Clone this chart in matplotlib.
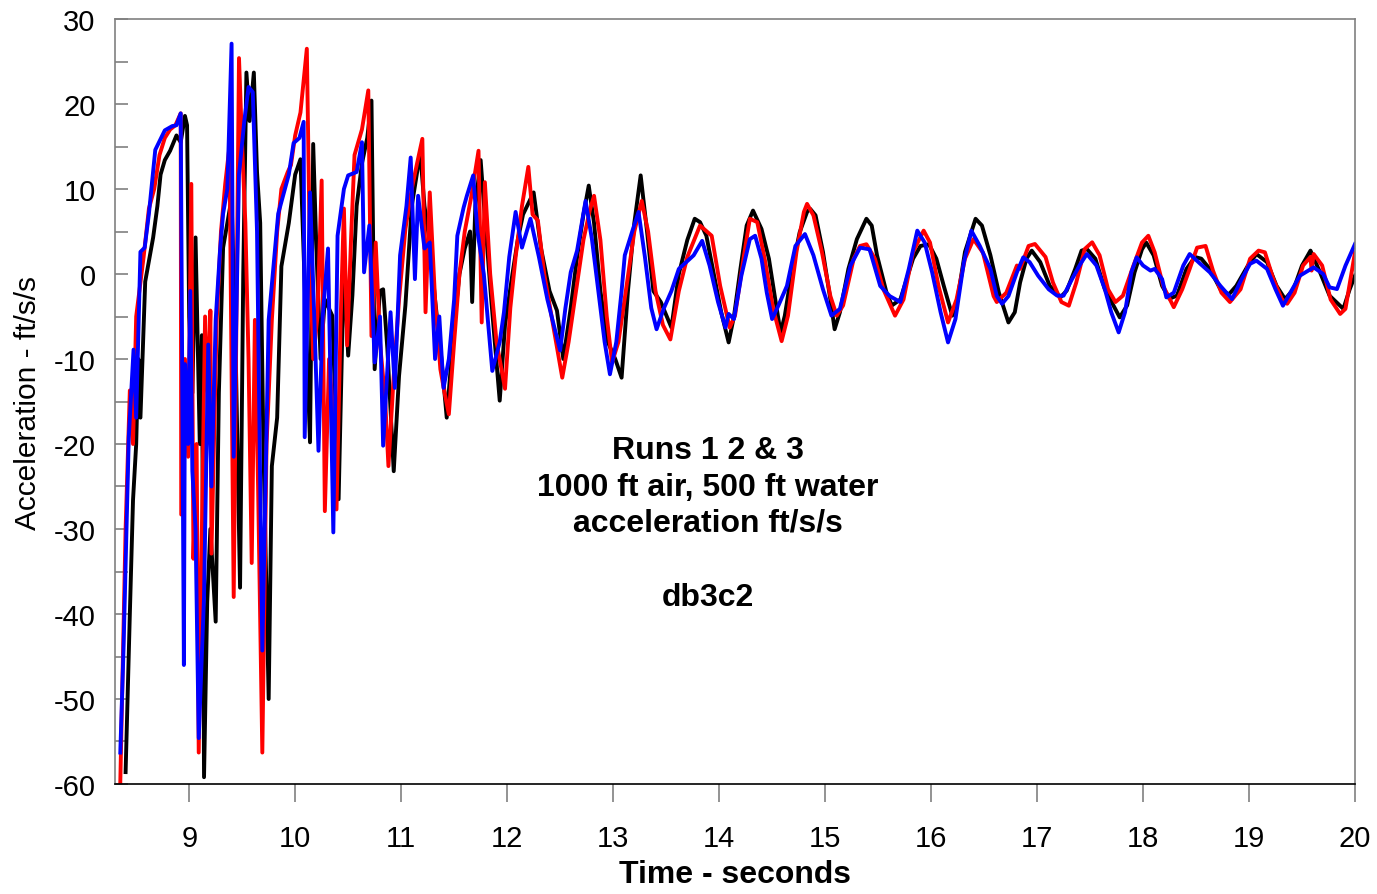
import matplotlib
matplotlib.use("Agg")
import matplotlib.pyplot as plt
from matplotlib.ticker import MultipleLocator

plt.rcParams['font.family'] = ['Liberation Sans', 'DejaVu Sans']
plt.rcParams['axes.unicode_minus'] = False

# ---------------- data ----------------
t_run1 = [8.40, 8.44, 8.47, 8.50, 8.52, 8.54, 8.585, 8.62, 8.66, 8.70, 8.73, 8.77, 8.82, 8.88, 8.92, 8.96, 8.98,
          9.00, 9.03, 9.06, 9.08, 9.10, 9.12, 9.14, 9.17, 9.20, 9.25, 9.28, 9.32, 9.36, 9.40, 9.44, 9.48, 9.51,
          9.54, 9.57, 9.61, 9.64, 9.67, 9.70, 9.75, 9.78, 9.83, 9.87, 9.94, 10.00, 10.05, 10.10, 10.14, 10.17,
          10.20, 10.24, 10.28, 10.35, 10.41, 10.46, 10.50, 10.54, 10.58, 10.63, 10.68, 10.72, 10.75, 10.80,
          10.83, 10.87, 10.93, 10.98, 11.04, 11.10, 11.18, 11.22, 11.27, 11.32, 11.38, 11.43, 11.50, 11.55,
          11.60, 11.65, 11.67, 11.70, 11.75, 11.80, 11.85, 11.93, 11.98, 12.05, 12.10, 12.15, 12.25, 12.32,
          12.40, 12.47, 12.53, 12.60, 12.66, 12.72, 12.77, 12.82, 12.88, 12.95, 13.02, 13.08, 13.14, 13.20,
          13.26, 13.32, 13.38, 13.45, 13.55, 13.62, 13.70, 13.77,
          13.82, 13.88, 13.95, 14.02, 14.09, 14.14, 14.20, 14.26, 14.32, 14.40, 14.47, 14.53, 14.58, 14.62,
          14.69, 14.76, 14.83, 14.86, 14.91, 14.98, 15.05, 15.09, 15.14, 15.22, 15.30, 15.39, 15.44, 15.49,
          15.58, 15.63, 15.71, 15.83, 15.90, 15.98, 16.05, 16.12, 16.20, 16.24, 16.32, 16.42, 16.48, 16.56,
          16.64, 16.73, 16.79,
          16.84, 16.90, 16.95, 17.03, 17.12, 17.22, 17.28, 17.36, 17.42, 17.47, 17.55, 17.64, 17.72, 17.78,
          17.85, 17.92, 17.99, 18.03, 18.10, 18.18, 18.25, 18.32, 18.41, 18.49, 18.55, 18.63, 18.73, 18.81,
          18.88, 18.99, 19.07, 19.17, 19.26, 19.34, 19.42, 19.50, 19.58, 19.67, 19.76, 19.89, 19.95, 20.00]
a_run1 = [-58.6, -40.0, -26.6, -20.0, -10.0, -16.9, -0.9, 1.5, 4.3, 8.0, 11.7, 13.4, 14.5, 16.3, 15.5, 18.6, 17.5,
          -5.0, -14.0, 4.3, -8.0, -20.0, -7.2, -59.2, -38.6, -30.0, -40.9, -14.0, 3.1, 6.0, 8.9, -10.0, -36.9, 0.0,
          23.7, 18.0, 23.7, 12.0, 6.0, -20.0, -50.0, -22.6, -16.9, 0.9, 6.0, 11.7, 13.5, -5.0, -19.8, 15.3,
          3.0, -10.0, -3.0, -4.9, -26.5, 1.4, -9.6, -2.5, 8.0, 13.0, 16.0, 20.4, -11.2, -2.0,
          -1.8, -8.8, -23.2, -12.0, -3.7, 8.0, 14.3, 8.0, 3.7, -3.0, -10.0, -16.9, -6.0, 0.0,
          3.0, 5.0, -3.3, 8.0, 13.4, 5.0, -3.0, -14.9, -6.0, 0.0, 4.0, 7.0, 9.6, 3.0,
          -2.0, -4.3, -10.0, -4.0, 2.0, 7.0, 10.4, 6.0, -2.0, -8.0, -10.0, -12.2, -2.0, 6.0,
          11.6, 5.0, -2.0, -3.3, -6.3, 0.0, 4.0, 6.5,
          6.1, 4.5, 0.0, -4.5, -8.05, -5.0, 0.5, 5.7, 7.46, 5.3, 1.8, -3.0, -6.9, -4.9,
          0.6, 4.9, 7.3, 7.66, 6.9, 2.6, -3.0, -6.5, -4.5, 0.6, 4.1, 6.5, 5.7, 2.2,
          -2.2, -3.7, -3.0, 1.8, 3.3, 3.5, 1.8, -1.4, -4.9, -3.7, 2.6, 6.5, 5.7, 2.2,
          -2.2, -5.7, -4.5,
          -1.0, 1.8, 2.75, 1.4, -1.4, -2.75, -1.96, 0.6, 2.75, 2.94, 1.8, -1.8, -3.7, -5.1,
          -3.7, 0.2, 2.9, 3.7, 2.2, -1.4, -2.9, -2.55, 0.6, 2.0, 1.8, 0.6, -1.8, -2.4,
          -1.4, 1.0, 2.35, 1.4, -1.4, -2.95, -1.8, 1.0, 2.75, 0.2, -2.55, -4.1, -1.8, -0.2]

t_run2 = [8.35, 8.40, 8.44, 8.47, 8.50, 8.57, 8.62, 8.67, 8.72, 8.77, 8.82, 8.87, 8.92, 8.925, 8.96, 8.99, 9.02,
          9.04, 9.07, 9.09, 9.12, 9.15, 9.18, 9.20, 9.21, 9.26, 9.30, 9.34, 9.38, 9.42, 9.47, 9.50, 9.53, 9.56,
          9.59, 9.62, 9.65, 9.69, 9.73, 9.78, 9.83, 9.87, 9.93, 9.96, 10.00, 10.05, 10.11, 10.14, 10.17, 10.21,
          10.25, 10.28, 10.32, 10.35, 10.39, 10.43, 10.46, 10.49, 10.53, 10.56, 10.63, 10.69, 10.72, 10.76,
          10.80, 10.85, 10.88, 10.93, 10.98, 11.04, 11.10, 11.15, 11.20, 11.23, 11.27, 11.32, 11.37, 11.41,
          11.45, 11.50, 11.55, 11.60, 11.66, 11.73, 11.76, 11.79, 11.84, 11.90, 11.98, 12.03, 12.08, 12.14,
          12.20, 12.24, 12.29, 12.35, 12.42, 12.52, 12.58, 12.65, 12.72, 12.78, 12.82, 12.88, 12.94, 12.99,
          13.05, 13.12, 13.20, 13.27, 13.33, 13.40, 13.47, 13.54, 13.62, 13.70,
          13.82, 13.93, 14.01, 14.10, 14.15, 14.23, 14.29, 14.36, 14.43, 14.51, 14.59, 14.65, 14.73, 14.80,
          14.83, 14.89, 14.97, 15.05, 15.11, 15.17, 15.27, 15.33, 15.39, 15.47, 15.55, 15.66, 15.74, 15.83,
          15.93, 15.99, 16.07, 16.16, 16.24, 16.32, 16.40, 16.49, 16.59, 16.62, 16.71, 16.81,
          16.84, 16.92, 16.98, 17.08, 17.15, 17.23, 17.30, 17.37, 17.45, 17.52, 17.59, 17.67, 17.74, 17.81,
          17.91, 17.99, 18.05, 18.11, 18.19, 18.29, 18.37, 18.44, 18.51, 18.59, 18.66, 18.74, 18.82, 18.92,
          19.01, 19.09, 19.15, 19.23, 19.31, 19.36, 19.43, 19.51, 19.58, 19.59, 19.61, 19.69, 19.77, 19.86,
          19.91, 20.00]
a_run2 = [-59.8, -30.0, -13.7, -20.0, -5.0, 2.0, 7.7, 10.0, 14.0, 16.0, 17.0, 17.5, 18.9, -28.3, -10.0, -21.5, 10.6,
          -33.5, -20.0, -56.3, -30.0, -5.0, -15.0, -4.3, -32.9, -5.4, 5.0, 10.6, 15.0, -38.0, 25.4, 15.0, 6.0, -10.0,
          -34.0, -5.4, -25.0, -56.3, -20.0, -5.4, 5.0, 10.0, 12.0, 12.8, 16.3, 19.0, 26.5, 1.4, -10.0, -5.0,
          11.0, -27.9, -10.0, -15.0, -27.7, -5.0, 7.7, -8.4, 5.0, 14.0, 17.0, 21.6, -7.3, 3.7,
          -8.0, -15.0, -22.6, -12.0, -3.0, 5.3, 10.0, 13.0, 15.9, -4.5, 9.6, -3.0, -11.2, -14.0,
          -16.5, -8.0, 0.0, 5.0, 9.0, 14.5, -5.7, 10.8, 0.0, -8.0, -13.5, -4.0, 2.0, 8.0,
          12.6, 7.0, 6.3, 0.0, -5.0, -12.2, -8.0, -2.0, 4.0, 7.5, 9.2, 4.0, -5.0, -10.4,
          -8.0, -2.0, 5.0, 8.6, 5.0, -2.0, -6.0, -7.7, -2.0, 2.0,
          5.7, 4.5, -1.4, -6.3, -4.9, 1.8, 6.5, 6.1, 1.8, -4.1, -7.9, -4.9, 2.6, 7.3,
          8.25, 6.9, 2.6, -2.6, -4.9, -3.7, 1.8, 3.3, 3.5, 1.8, -1.8, -4.9, -3.0, 2.6,
          5.1, 3.7, -1.4, -5.7, -3.0, 1.8, 4.1, 2.5, -2.6, -3.3, -2.2, 1.0,
          0.6, 3.3, 3.53, 2.0, -1.0, -3.3, -3.73, -1.0, 2.94, 3.73, 2.2, -1.8, -3.3, -2.55,
          1.0, 3.7, 4.5, 2.55, -1.4, -3.9, -1.8, 0.6, 3.1, 3.3, 0.4, -2.2, -3.3, -1.8,
          1.8, 2.75, 2.55, -0.6, -2.95, -3.5, -2.2, 1.0, 2.0, 0.4, 2.35, 1.0, -3.0, -4.7,
          -4.1, 2.55]

t_run3 = [8.35, 8.38, 8.43, 8.475, 8.50, 8.54, 8.58, 8.62, 8.68, 8.77, 8.84, 8.88, 8.92, 8.95, 8.96, 8.99, 9.01,
          9.03, 9.06, 9.09, 9.14, 9.18, 9.21, 9.25, 9.29, 9.32, 9.36, 9.40, 9.42, 9.47, 9.52, 9.56, 9.60, 9.64,
          9.69, 9.75, 9.84, 9.94, 9.985, 10.04, 10.08, 10.09, 10.14, 10.18, 10.22, 10.26, 10.31, 10.36, 10.40,
          10.46, 10.50, 10.58, 10.63, 10.65, 10.70, 10.75, 10.80, 10.83, 10.90, 10.94, 10.99, 11.05, 11.09,
          11.13, 11.16, 11.22, 11.27, 11.32, 11.36, 11.40, 11.45, 11.50, 11.53, 11.59, 11.62, 11.68, 11.72,
          11.78, 11.86, 11.93, 11.97, 12.02, 12.08, 12.14, 12.22, 12.30, 12.38, 12.44, 12.50, 12.55, 12.60,
          12.66, 12.74, 12.80, 12.86, 12.92, 12.97, 13.03, 13.08, 13.11, 13.18, 13.24, 13.30, 13.36, 13.41,
          13.48, 13.55, 13.62, 13.76,
          13.84, 13.91, 13.99, 14.06, 14.09, 14.14, 14.21, 14.29, 14.34, 14.40, 14.45, 14.50, 14.56, 14.64,
          14.72, 14.81, 14.89, 14.98, 15.06, 15.14, 15.24, 15.33, 15.42, 15.52, 15.61, 15.71, 15.79, 15.87,
          15.94, 16.01, 16.09, 16.16, 16.23, 16.31, 16.38, 16.46, 16.56, 16.62, 16.67, 16.73, 16.81,
          16.87, 16.93, 17.01, 17.11, 17.19, 17.25, 17.33, 17.41, 17.47, 17.56, 17.64, 17.70, 17.77, 17.83,
          17.89, 17.94, 18.00, 18.07, 18.11, 18.18, 18.22, 18.29, 18.38, 18.44, 18.54, 18.63, 18.73, 18.84,
          18.93, 19.01, 19.07, 19.17, 19.25, 19.32, 19.39, 19.48, 19.61, 19.70, 19.76, 19.83, 19.91, 20.00]
a_run3 = [-56.3, -44.3, -19.2, -8.9, -16.9, 2.6, 3.1, 7.1, 14.6, 16.9, 17.4, 17.5, 18.9, -46.0, -10.6, -20.0, -2.0,
          -23.2, -30.0, -54.6, -38.0, -8.3, -25.0, -5.4, 2.6, 7.1, 10.0, 27.1, -21.5, 11.7, 18.0, 22.0, 21.4, 5.0,
          -44.3, -5.4, 7.1, 11.7, 15.4, 16.0, 17.9, -19.2, 9.6, -5.0, -20.8, -5.0, 3.0, -30.4, 4.5,
          10.0, 11.6, 12.0, 15.5, 0.2, 5.7, -10.4, -5.0, -20.2, -4.5, -13.4, 2.2, 8.0, 13.7,
          -0.6, 9.2, 3.0, 3.7, -10.0, -5.0, -13.4, -10.0, -3.0, 4.5, 7.85, 9.2, 11.6, 5.0,
          0.0, -11.4, -8.0, -4.5, 2.0, 7.3, 3.1, 6.5, 2.0, -3.0, -6.0, -9.0, -4.0, 0.2,
          2.75, 8.6, 4.1, -2.0, -8.0, -11.8, -8.0, -2.0, 2.2, 5.0, 7.3, 2.0, -4.0, -6.5,
          -4.0, -2.0, 0.6, 2.2,
          3.9, 1.0, -3.3, -6.3, -4.7, -5.3, -0.2, 4.1, 4.5, 1.8, -2.2, -5.3, -3.7, -1.4,
          3.3, 4.7, 2.2, -1.8, -4.9, -4.1, 1.0, 3.1, 2.9, -1.4, -2.6, -3.3, 0.6, 5.1,
          3.7, 0.2, -4.5, -8.05, -5.3, 1.4, 5.1, 3.3, 0.6, -2.6, -3.5, -2.6, 0.2,
          1.96, 1.4, -0.2, -1.8, -2.55, -2.55, -0.6, 1.2, 2.35, 1.0, -1.8, -4.5, -6.87, -4.5,
          0.2, 1.96, 1.0, 0.4, 0.6, -0.6, -2.75, -2.2, 1.0, 2.35, 1.2, 0.2, -1.4, -2.95,
          -0.6, 1.2, 1.57, 0.6, -1.8, -3.73, -2.2, -0.2, 0.78, 0.0, -1.57, -1.77, 0.98, 3.53]

x_ticks = [9, 10, 11, 12, 13, 14, 15, 16, 17, 18, 19, 20]
y_ticks = [-60, -50, -40, -30, -20, -10, 0, 10, 20, 30]
note_lines = ["Runs 1 2 & 3", "1000 ft air, 500 ft water", "acceleration ft/s/s", "", "db3c2"]

# ---------------- figure ----------------
W, H = 1377, 895
fig = plt.figure(figsize=(W / 100, H / 100), dpi=100)
L, R, T, B = 115, 1355, 20, 785
ax = fig.add_axes([L / W, 1 - B / H, (R - L) / W, (B - T) / H])

lw = 2.8
ax.plot(t_run1, a_run1, color='black', lw=lw, solid_joinstyle='round')
ax.plot(t_run2, a_run2, color='#ff0000', lw=lw, solid_joinstyle='round')
ax.plot(t_run3, a_run3, color='#0000ff', lw=lw, solid_joinstyle='round')

ax.set_xlim(8.3, 20)
ax.set_ylim(-60, 30)
ax.set_xticks(x_ticks)
ax.set_yticks(y_ticks)
ax.yaxis.set_minor_locator(MultipleLocator(5))

grey = '#808080'
for s in ['left', 'top', 'right']:
    ax.spines[s].set_color(grey)
    ax.spines[s].set_linewidth(1.2)
ax.spines['bottom'].set_color('black')
ax.spines['bottom'].set_linewidth(1.2)

ax.tick_params(axis='y', which='major', direction='in', length=9, width=1.2, color=grey,
               labelsize=21, pad=14, right=False)
ax.tick_params(axis='y', which='minor', direction='in', length=9, width=1.2, color=grey, right=False)
ax.tick_params(axis='x', which='major', direction='out', length=13, width=1.2, color=grey,
               labelsize=21, pad=16, top=False)

ax.set_ylabel("Acceleration - ft/s/s", fontsize=21.5, va='center')
ax.yaxis.set_label_coords((28 - L) / (R - L), 0.5)
ax.set_xlabel("Time - seconds", fontsize=23, fontweight='bold', va='center')
ax.xaxis.set_label_coords((735 - L) / (R - L), (B - 875) / (B - T))

ys = [451, 488, 524, 561, 598]
for line, yp in zip(note_lines, ys):
    if line:
        ax.text((708 - L) / (R - L), (B - yp) / (B - T), line, transform=ax.transAxes,
                ha='center', va='center', fontsize=23, fontweight='bold')

fig.savefig("out.png", dpi=100)
